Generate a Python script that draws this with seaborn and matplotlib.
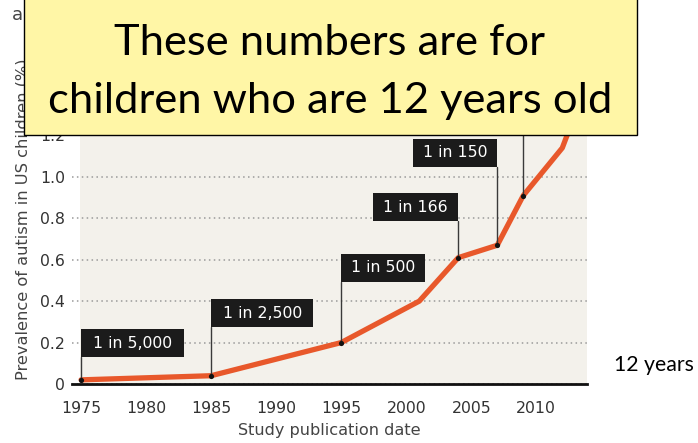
import matplotlib
matplotlib.use("Agg")
import matplotlib.pyplot as plt
import seaborn as sns
import numpy as np
import pandas as pd
from matplotlib.patches import Rectangle

# ---- data ----
years = [1975, 1985, 1995, 2001, 2004, 2007, 2009, 2012, 2014]
prevalence = [0.02, 0.04, 0.20, 0.40, 0.61, 0.67, 0.91, 1.14, 1.47]
label_years = [1975, 1985, 1995, 2004, 2007, 2009]
label_texts = ["1 in 5,000", "1 in 2,500", "1 in 500", "1 in 166", "1 in 150", None]
y_ticks = [0, 0.2, 0.4, 0.6, 0.8, 1.0, 1.2]
y_ticklabels = ["0", "0.2", "0.4", "0.6", "0.8", "1.0", "1.2"]
x_ticks = [1975, 1980, 1985, 1990, 1995, 2000, 2005, 2010]

# ---- layout (annotation boxes) ----
box_bottoms = [0.13, 0.275, 0.493, 0.787, 1.048, 1.30]
box_side = ["right", "right", "right", "left", "left", "left"]
box_w_px = [103, 102, 84, 85, 84, 84]
box_h_px = 28

sns.set_style("white")
plt.rcParams["font.family"] = ["DejaVu Sans"]

W, H = 698, 443
fig = plt.figure(figsize=(W / 100, H / 100), dpi=100)
ax = fig.add_axes([72 / W, 59 / H, 515 / W, 379 / H])

df = pd.DataFrame({"year": years, "prev": prevalence})
ax.axvspan(1974.92, 2014.5, color="#f3f1eb", zorder=0, lw=0)
sns.lineplot(data=df, x="year", y="prev", ax=ax, color="#e8582b",
             linewidth=3.8, zorder=3, solid_joinstyle="round")

ax.set_xlim(1974.3, 2013.9)
ax.set_ylim(0, 1.83)

# annotation geometry
xmin, xmax = ax.get_xlim()
ymin, ymax = ax.get_ylim()
px_per_year = 515 / (xmax - xmin)
px_per_unit = 379 / (ymax - ymin)
val_lookup = dict(zip(years, prevalence))
lab_vals = [val_lookup[y] for y in label_years]

for yr, v, txt, bb, side, wpx in zip(label_years, lab_vals, label_texts,
                                     box_bottoms, box_side, box_w_px):
    wd = wpx / px_per_year
    hd = box_h_px / px_per_unit
    x0 = yr if side == "right" else yr - wd
    ax.plot([yr, yr], [v, bb], color="#3a3a3a", lw=1.0, zorder=4)
    ax.add_patch(Rectangle((x0, bb), wd, hd, facecolor="#1b1b1b",
                           edgecolor="none", zorder=5))
    if txt:
        ax.text(x0 + wd / 2, bb + hd / 2, txt, color="white", fontsize=11.3,
                ha="center", va="center", zorder=6)

ax.scatter(label_years, lab_vals, s=14, color="#111111", zorder=7, linewidths=0)

# gridlines above 1.2 (hidden under the overlay in the reference)
for gy in [1.4, 1.6, 1.8]:
    ax.axhline(gy, color="#9a9a9a", linestyle=(0, (1, 2.2)), linewidth=1.1, zorder=0.5)

# axes styling
ax.set_yticks(y_ticks)
ax.set_yticklabels(y_ticklabels)
ax.set_xticks(x_ticks)
ax.set_xticks(np.arange(1975, 2014), minor=True)
ax.tick_params(axis="y", length=0, labelsize=11.3, labelcolor="#333333", pad=5)
ax.tick_params(axis="x", which="major", length=5, width=1, color="#999999",
               labelsize=11.3, labelcolor="#333333", pad=7.5)
ax.tick_params(axis="x", which="minor", length=5, width=1, color="#aaaaaa")
ax.grid(axis="y", color="#9a9a9a", linestyle=(0, (1, 2.2)), linewidth=1.1)
ax.grid(axis="x", visible=False)
ax.set_axisbelow(True)
for s in ["top", "right", "left"]:
    ax.spines[s].set_visible(False)
ax.spines["bottom"].set_color("#111111")
ax.spines["bottom"].set_linewidth(2.0)
ax.spines["bottom"].set_zorder(8)

ax.set_xlabel("Study publication date", fontsize=11.6, color="#444444", labelpad=5)
ax.set_ylabel("Prevalence of autism in US children (%)", fontsize=11.7, color="#444444")
ax.yaxis.set_label_coords((31 - 72) / 515, (384 - 219) / 379)

# stray text top-left
fig.text(12 / W, 1 - 20 / H, "a", fontsize=13, color="#444444")

# yellow overlay box
fig.add_artist(Rectangle((24 / W, 1 - 135 / H), (637 - 24) / W, 140 / H,
                         transform=fig.transFigure, facecolor="#fff6a6",
                         edgecolor="black", linewidth=1.0, zorder=20))
fig.text(330 / W, 1 - 55 / H, "These numbers are for", fontsize=31.3,
         family="Lato", ha="center", va="baseline", color="black", zorder=21)
fig.text(330 / W, 1 - 113 / H, "children who are 12 years old", fontsize=31.3,
         family="Lato", ha="center", va="baseline", color="black", zorder=21)

fig.text(614 / W, 1 - 371 / H, "12 years", fontsize=15.3, family="Lato",
         ha="left", va="baseline", color="black")

fig.savefig("out.png", dpi=100)
